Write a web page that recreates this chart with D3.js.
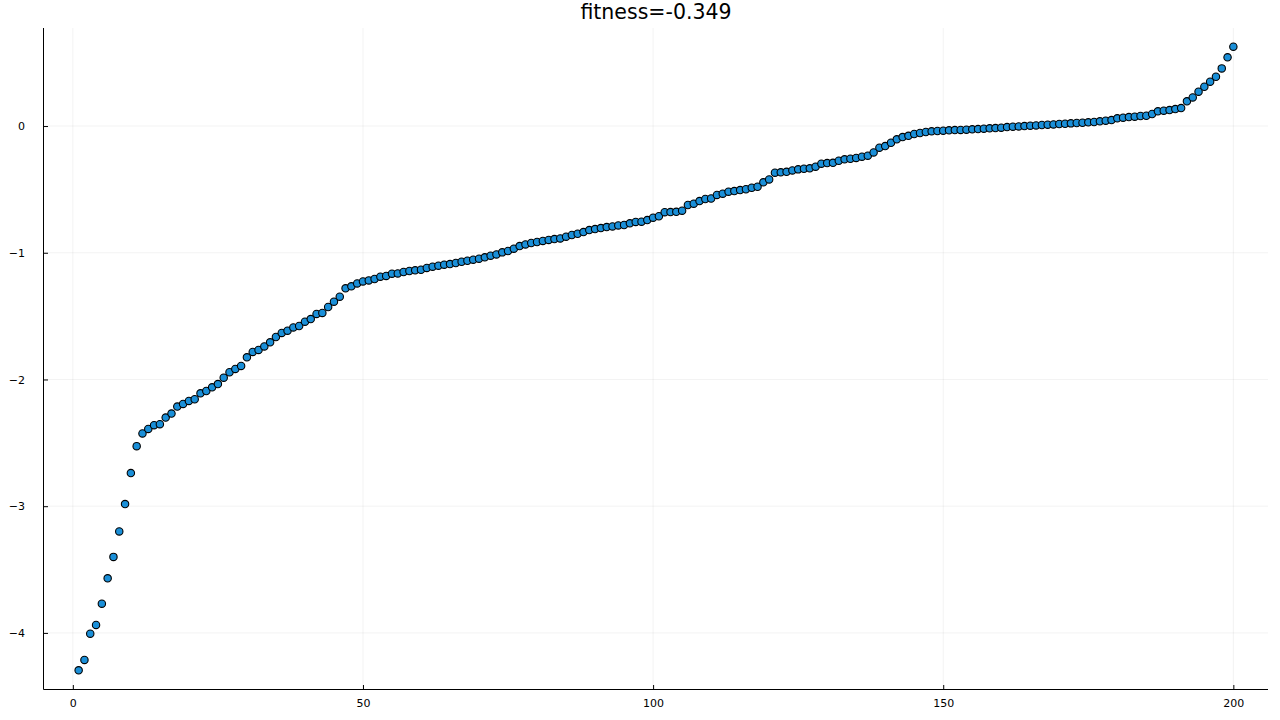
<!DOCTYPE html>
<html>
<head>
<meta charset="utf-8">
<script src="https://cdn.jsdelivr.net/npm/d3@7/dist/d3.min.js"></script>
<style>
html,body{margin:0;padding:0;background:#fff;}
svg{display:block;}
</style>
</head>
<body>
<svg id="chart" width="1280" height="720"></svg>
<script>
const titleText = "fitness=-0.349";
const xTicks = [0, 50, 100, 150, 200];
const yTicks = [0, -1, -2, -3, -4];
// sorted fitness values, index 1..200
const values = [
-4.295,-4.213,-4.006,-3.937,-3.769,-3.569,-3.400,-3.199,-2.983,-2.739,
-2.526,-2.426,-2.390,-2.361,-2.353,-2.301,-2.269,-2.214,-2.193,-2.169,
-2.156,-2.109,-2.091,-2.062,-2.036,-1.986,-1.943,-1.917,-1.893,-1.825,
-1.783,-1.767,-1.739,-1.707,-1.665,-1.633,-1.615,-1.589,-1.578,-1.544,
-1.523,-1.483,-1.475,-1.428,-1.386,-1.347,-1.281,-1.265,-1.242,-1.226,
-1.218,-1.207,-1.189,-1.183,-1.165,-1.163,-1.152,-1.144,-1.139,-1.134,
-1.120,-1.110,-1.102,-1.094,-1.089,-1.081,-1.071,-1.063,-1.055,-1.047,
-1.036,-1.023,-1.013,-0.997,-0.986,-0.968,-0.947,-0.934,-0.923,-0.915,
-0.907,-0.899,-0.892,-0.887,-0.873,-0.860,-0.850,-0.837,-0.821,-0.813,
-0.805,-0.797,-0.792,-0.784,-0.781,-0.768,-0.757,-0.755,-0.742,-0.723,
-0.712,-0.680,-0.679,-0.677,-0.668,-0.623,-0.613,-0.592,-0.576,-0.572,
-0.544,-0.534,-0.518,-0.513,-0.505,-0.499,-0.487,-0.479,-0.444,-0.421,
-0.368,-0.365,-0.361,-0.350,-0.342,-0.337,-0.334,-0.321,-0.297,-0.292,
-0.290,-0.274,-0.263,-0.258,-0.252,-0.242,-0.234,-0.208,-0.171,-0.158,
-0.132,-0.105,-0.087,-0.077,-0.063,-0.055,-0.047,-0.042,-0.039,-0.037,
-0.034,-0.032,-0.031,-0.029,-0.026,-0.024,-0.021,-0.018,-0.016,-0.013,
-0.008,-0.005,-0.003,0.000,0.003,0.005,0.008,0.011,0.013,0.016,
0.018,0.021,0.024,0.026,0.029,0.032,0.037,0.042,0.047,0.061,
0.066,0.071,0.074,0.079,0.081,0.095,0.116,0.121,0.126,0.134,
0.142,0.195,0.226,0.271,0.310,0.350,0.389,0.455,0.542,0.626
];

const data = values.map((v, i) => ({x: i + 1, y: v}));
const svg = d3.select("#chart");
const L = 44, R = 1268, T = 28, B = 689;

const xMin = 1, xMax = values.length;
const xPad = (xMax - xMin) * 0.03;
const yMin = d3.min(values), yMax = d3.max(values);
const yPad = (yMax - yMin) * 0.03;

const x = d3.scaleLinear().domain([xMin - xPad, xMax + xPad]).range([L, R]);
const y = d3.scaleLinear().domain([yMin - yPad, yMax + yPad]).range([B, T]);

const fmt = d => d < 0 ? "\u2212" + Math.abs(d) : String(d);

// grid
const grid = svg.append("g");
grid.selectAll("line.gx").data(xTicks).enter().append("line")
  .attr("x1", d => x(d)).attr("x2", d => x(d)).attr("y1", T).attr("y2", B)
  .attr("stroke", "#000").attr("stroke-opacity", 0.1).attr("stroke-width", 0.5);
grid.selectAll("line.gy").data(yTicks).enter().append("line")
  .attr("y1", d => y(d)).attr("y2", d => y(d)).attr("x1", L).attr("x2", R)
  .attr("stroke", "#000").attr("stroke-opacity", 0.1).attr("stroke-width", 0.5);

// axes
const xAxis = d3.axisBottom(x).tickValues(xTicks).tickSize(-4).tickPadding(8).tickFormat(fmt);
const yAxis = d3.axisLeft(y).tickValues(yTicks).tickSize(-4).tickPadding(19).tickFormat(fmt);

const gx = svg.append("g").attr("transform", `translate(0,${B})`).call(xAxis);
const gy = svg.append("g").attr("transform", `translate(${L},0)`).call(yAxis);
[gx, gy].forEach(g => {
  g.select(".domain").remove();
  g.selectAll(".tick line").attr("stroke", "#000").attr("stroke-width", 1);
  g.selectAll(".tick text").attr("font-family", "DejaVu Sans").attr("font-size", 11).attr("fill", "#000");
});
gx.selectAll(".tick text").attr("dy", "0.9em");

svg.append("line").attr("x1", L - 0.5).attr("x2", R).attr("y1", B + 0.5).attr("y2", B + 0.5)
  .attr("stroke", "#000").attr("stroke-width", 1);
svg.append("line").attr("x1", L - 0.5).attr("x2", L - 0.5).attr("y1", T).attr("y2", B + 0.5)
  .attr("stroke", "#000").attr("stroke-width", 1);

// points
svg.append("g").selectAll("circle").data(data).enter().append("circle")
  .attr("cx", d => x(d.x)).attr("cy", d => y(d.y)).attr("r", 3.7)
  .attr("fill", "#1a8fd8").attr("stroke", "#000").attr("stroke-width", 1.1);

// title
svg.append("text").attr("x", (L + R) / 2).attr("y", 18.5)
  .attr("text-anchor", "middle").attr("font-family", "DejaVu Sans").attr("font-size", 20.5)
  .attr("fill", "#000").text(titleText);
</script>
</body>
</html>
